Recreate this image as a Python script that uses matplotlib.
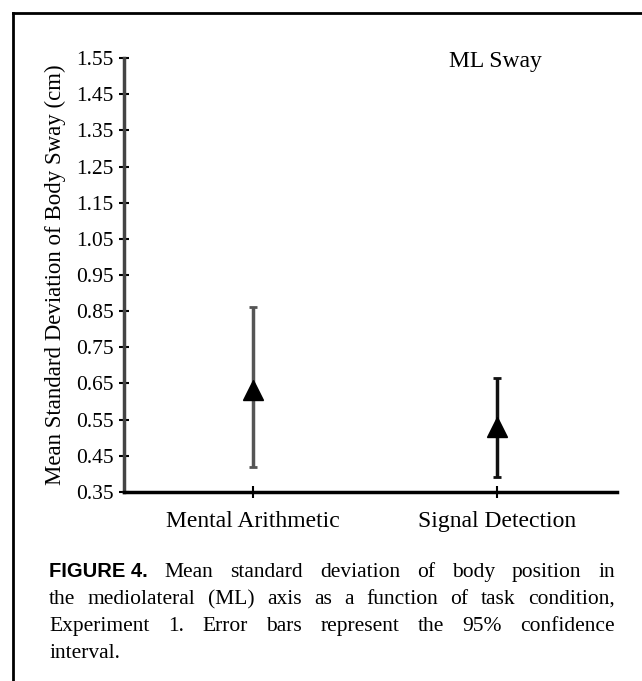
import numpy as np
import matplotlib
matplotlib.use('Agg')
from matplotlib import pyplot as plt
from matplotlib.lines import Line2D

plt.rcParams['font.family'] = ['Liberation Serif', 'DejaVu Serif']

# data
conditions = ['Mental Arithmetic', 'Signal Detection']
means = [0.632, 0.530]
ciUpper = [0.861, 0.665]
ciLower = [0.419, 0.391]
yTicks = [0.35, 0.45, 0.55, 0.65, 0.75, 0.85, 0.95, 1.05, 1.15, 1.25, 1.35, 1.45, 1.55]
barColors = ['#555555', '#111111']

captionLines = [
    [('FIGURE 4.', 'bold'), 'Mean', 'standard', 'deviation', 'of', 'body', 'position', 'in'],
    ['the', 'mediolateral', '(ML)', 'axis', 'as', 'a', 'function', 'of', 'task', 'condition,'],
    ['Experiment', '1.', 'Error', 'bars', 'represent', 'the', '95%', 'confidence'],
    ['interval.'],
]

W, H = 642, 681
fig = plt.figure(figsize=(W / 100, H / 100), dpi=100)

def fx(px):
    return px / W

def fy(py):
    return 1 - py / H

# outer frame (left and top edges only are visible)
fig.add_artist(Line2D([fx(13), fx(13)], [fy(13), fy(681)], color='black', lw=2))
fig.add_artist(Line2D([fx(13), fx(642)], [fy(13), fy(13)], color='black', lw=2))

ax = fig.add_axes([fx(124), fy(492), fx(617) - fx(124), fy(58) - fy(492)])
x = np.arange(1, len(conditions) + 1)
for i in range(len(conditions)):
    lo = means[i] - ciLower[i]
    hi = ciUpper[i] - means[i]
    ax.errorbar(x[i], means[i], yerr=[[lo], [hi]], fmt='^', color='black',
                ecolor=barColors[i], elinewidth=2.5, capsize=3, capthick=2,
                markersize=14, zorder=3)

ax.set_xlim(0.47, 2.49)
ax.set_ylim(0.35, 1.55)
ax.set_yticks(yTicks)
ax.set_yticklabels(['%.2f' % v for v in yTicks])
ax.set_xticks(x)
ax.set_xticklabels(conditions)

for s in ['top', 'right']:
    ax.spines[s].set_visible(False)
ax.spines['left'].set_linewidth(2.5)
ax.spines['left'].set_color('#444444')
ax.spines['bottom'].set_linewidth(2.5)
ax.tick_params(axis='y', direction='inout', length=7, width=1.5, labelsize=15.5, pad=4)
ax.tick_params(axis='x', direction='inout', length=8, width=1.5, labelsize=17, pad=10)

ax.set_ylabel('Mean Standard Deviation of Body Sway (cm)', fontsize=16.5)
ax.yaxis.set_label_coords(-0.118, 0.5)

fig.text(fx(449), fy(61), 'ML Sway', fontsize=17, ha='left', va='center')

# caption, justified between x0 and x1
renderer = fig.canvas.get_renderer()
x0, x1 = 49, 615
baselines = [577, 604, 631, 658]
for n, words in enumerate(captionLines):
    items = []
    for w in words:
        if isinstance(w, tuple):
            t = fig.text(0, fy(baselines[n]), w[0], fontsize=14.5, fontweight='bold',
                         family=['Liberation Sans', 'DejaVu Sans'], va='baseline')
        else:
            t = fig.text(0, fy(baselines[n]), w, fontsize=15.5, va='baseline')
        items.append(t)
    widths = [t.get_window_extent(renderer).width for t in items]
    if n < len(captionLines) - 1 and len(items) > 1:
        gap = (x1 - x0 - sum(widths)) / (len(items) - 1)
    else:
        gap = 5
    pos = x0
    for t, wd in zip(items, widths):
        t.set_x(fx(pos))
        pos += wd + gap

fig.savefig('out.png', dpi=100)
